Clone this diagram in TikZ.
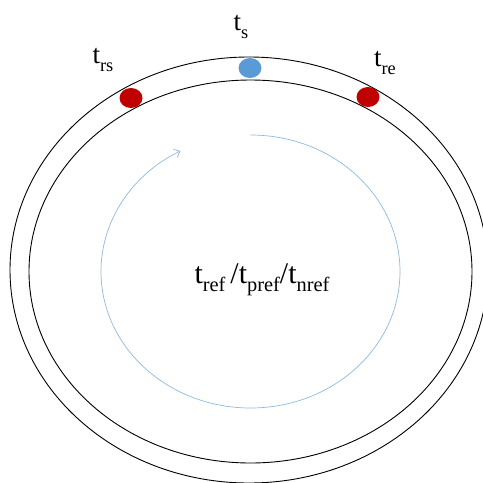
\documentclass[tikz,border=0pt]{standalone}
\usepackage{fontspec}
\setmainfont{Liberation Serif}
\usetikzlibrary{arrows.meta,shapes.geometric}
\definecolor{dotblue}{HTML}{5B9BD5}
\definecolor{dotred}{HTML}{C00000}
\definecolor{arcblue}{HTML}{8FB8E0}
\newcommand{\sbs}[1]{\raisebox{-0.28em}{\fontsize{0.68\fontdimen6\font}{1pt}\selectfont #1}}
\tikzset{
  ring/.style={draw=black, line width=0.9pt},
  dotb/.style={ellipse, fill=dotblue, minimum width=23pt, minimum height=20pt, inner sep=0pt},
  dotr/.style={ellipse, fill=dotred, minimum width=23pt, minimum height=20pt, inner sep=0pt},
  toplabel/.style={font=\fontsize{27}{32}\selectfont, inner sep=0pt},
  midlabel/.style={font=\fontsize{30}{36}\selectfont, inner sep=0pt}
}
\begin{document}
\begin{tikzpicture}[x=1pt,y=-1pt]
\useasboundingbox (0,0) rectangle (483,483);
\draw[ring] (249,270) ellipse [x radius=239, y radius=213];
\draw[ring] (250.5,271.5) ellipse [x radius=221.5, y radius=191.5];
\draw[arcblue, line width=0.7pt, -{Straight Barb[length=5pt,width=9pt]}]
  (250.5,135) arc [start angle=-90, end angle=242, x radius=149.5, y radius=136.5];
\node[dotb] (ts) at (250,68) {};
\node[dotr] (trs) at (131,98) {};
\node[dotr] (tre) at (368,97) {};
\node[toplabel] (lts) at (241,27) {t\sbs{s}};
\node[toplabel] (ltrs) at (103,60) {t\sbs{rs}};
\node[toplabel] (ltre) at (385,63) {t\sbs{re}};
\node[midlabel] (mid) at (262,280) {t\sbs{ref}\,/t\sbs{pref}/t\sbs{nref}};
\end{tikzpicture}
\end{document}
